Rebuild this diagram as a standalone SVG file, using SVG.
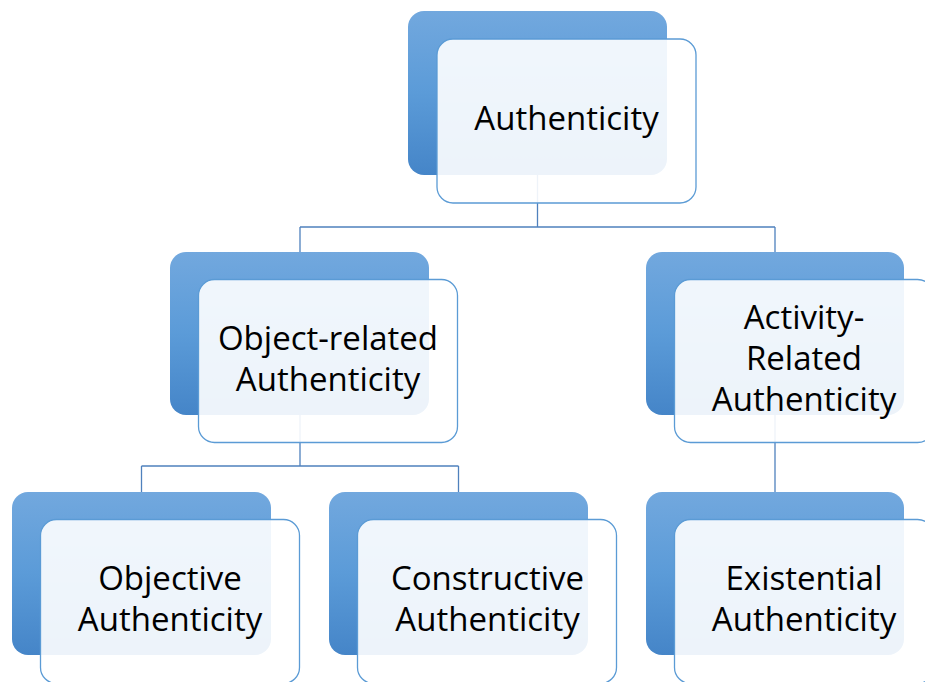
<svg xmlns="http://www.w3.org/2000/svg" width="925" height="682" viewBox="0 0 925 682">
  <defs>
    <linearGradient id="blueFill" x1="0" y1="0" x2="0" y2="1">
      <stop offset="0" stop-color="#72A8DE"/>
      <stop offset="0.5" stop-color="#5B9BD8"/>
      <stop offset="1" stop-color="#4585C8"/>
    </linearGradient>
    <style>
      .back { fill: url(#blueFill); }
      .front { fill: #ffffff; fill-opacity: 0.9; stroke: #5B9BD5; stroke-width: 1.3; }
      .conn { fill: none; stroke: #4F81BD; stroke-width: 1.3; }
      .label { font-family: "Open Sans", "Liberation Sans", sans-serif; font-size: 33px; fill: #000000; text-anchor: middle; }
    </style>
  </defs>
  <rect width="925" height="682" fill="#ffffff"/>

  <!-- connectors -->
  <g id="connectors">
    <path class="conn" d="M537.5 175 V227 M300 227 H775 M300 227 V252 M775 227 V252"/>
    <path class="conn" d="M300 415 V466 M141.5 466 H458.5 M141.5 466 V492 M458.5 466 V492"/>
    <path class="conn" d="M775 415 V492"/>
  </g>

  <!-- root -->
  <g id="node-authenticity">
    <rect class="back" x="408" y="11" width="259" height="164" rx="16"/>
    <rect class="front" x="437" y="39" width="259" height="164" rx="16"/>
    <text class="label" x="566.5" y="130">Authenticity</text>
  </g>

  <g id="node-object-related">
    <rect class="back" x="170" y="252" width="259" height="163" rx="16"/>
    <rect class="front" x="198.5" y="279.5" width="259" height="163" rx="16"/>
    <text class="label" x="328" y="350">Object-related</text>
    <text class="label" x="328" y="391">Authenticity</text>
  </g>

  <g id="node-activity-related">
    <rect class="back" x="646" y="252" width="258" height="163" rx="16"/>
    <rect class="front" x="674.5" y="279.5" width="259" height="163" rx="16"/>
    <text class="label" x="804" y="329">Activity-</text>
    <text class="label" x="804" y="370">Related</text>
    <text class="label" x="804" y="411">Authenticity</text>
  </g>

  <g id="node-objective">
    <rect class="back" x="12" y="492" width="259" height="163" rx="16"/>
    <rect class="front" x="40.5" y="519.5" width="259" height="164" rx="16"/>
    <text class="label" x="170" y="590">Objective</text>
    <text class="label" x="170" y="631">Authenticity</text>
  </g>

  <g id="node-constructive">
    <rect class="back" x="329" y="492" width="259" height="163" rx="16"/>
    <rect class="front" x="357.5" y="519.5" width="259" height="164" rx="16"/>
    <text class="label" x="487.5" y="590">Constructive</text>
    <text class="label" x="487.5" y="631">Authenticity</text>
  </g>

  <g id="node-existential">
    <rect class="back" x="646" y="492" width="258" height="163" rx="16"/>
    <rect class="front" x="674.5" y="519.5" width="259" height="164" rx="16"/>
    <text class="label" x="804" y="590">Existential</text>
    <text class="label" x="804" y="631">Authenticity</text>
  </g>
</svg>
